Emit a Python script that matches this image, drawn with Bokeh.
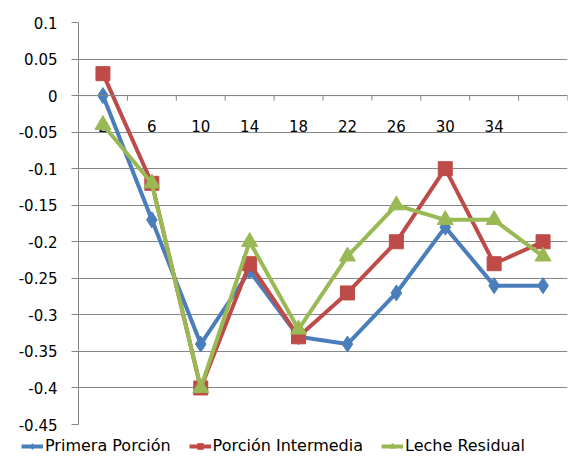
from bokeh.plotting import figure
from bokeh.models import (Range1d, FixedTicker, Span, Legend, LegendItem, ColumnDataSource)
from bokeh.core.properties import value
from bokeh.embed import file_html
from bokeh.resources import INLINE

categories = ["2", "6", "10", "14", "18", "22", "26", "30", "34", ""]
primera = [0.0, -0.17, -0.34, -0.24, -0.33, -0.34, -0.27, -0.18, -0.26, -0.26]
intermedia = [0.03, -0.12, -0.40, -0.23, -0.33, -0.27, -0.20, -0.10, -0.23, -0.20]
residual = [-0.04, -0.12, -0.40, -0.20, -0.32, -0.22, -0.15, -0.17, -0.17, -0.22]
y_ticks = [round(-0.45 + 0.05 * i, 2) for i in range(12)]
series_names = ["Primera Porción", "Porción Intermedia", "Leche Residual"]

FONT = "DejaVu Sans"
n = len(categories)
xs = [i + 0.5 for i in range(n)]

p = figure(width=571, height=436, output_backend="svg", toolbar_location=None,
           x_range=Range1d(0, n), y_range=Range1d(-0.45, 0.1),
           min_border_left=78, min_border_right=4, min_border_top=22, min_border_bottom=12)
p.outline_line_color = None
p.background_fill_color = "white"
p.border_fill_color = "white"

# x axis hidden (drawn at y=0 manually)
p.xaxis.visible = False
p.xgrid.visible = False

yax = p.yaxis[0]
yax.ticker = FixedTicker(ticks=y_ticks)
yax.major_label_overrides = {t: ("0" if t == 0 else f"{t:g}") for t in y_ticks}
yax.axis_line_color = "#868686"
yax.major_tick_line_color = "#868686"
yax.major_tick_out = 7
yax.major_tick_in = 0
yax.minor_tick_line_color = None
yax.major_label_standoff = 14
yax.major_label_text_font = FONT
yax.major_label_text_font_size = "15px"
yax.major_label_text_color = "black"

p.ygrid.ticker = FixedTicker(ticks=y_ticks)
p.ygrid.grid_line_color = "#868686"
p.ygrid.grid_line_width = 1

# category axis at y = 0
p.add_layout(Span(location=0, dimension="width", line_color="#868686", line_width=1))
bounds = list(range(1, n + 1))
p.segment(x0=bounds, y0=[0] * n, x1=bounds, y1=[-0.007] * n, line_color="#868686", line_width=1)
p.text(x=xs, y=[0] * n, text=categories, y_offset=30, text_align="center",
       text_baseline="middle", text_font=value(FONT), text_font_size="15px", text_color="black")

colors = ["#4A7EBB", "#BE4B48", "#98B954"]
markers = ["diamond", "square", "triangle"]
sizes = [16, 14, 16]

# legend strip below the chart (its ranges keep the series out of view)
lg = figure(width=571, height=21, output_backend="svg", toolbar_location=None,
            x_range=Range1d(100, 101), y_range=Range1d(100, 101),
            min_border_left=0, min_border_right=0, min_border_top=0, min_border_bottom=0)
lg.axis.visible = False
lg.grid.visible = False
lg.outline_line_color = None

items = []
for name, data, c, m, s in zip(series_names, [primera, intermedia, residual], colors, markers, sizes):
    src = ColumnDataSource(dict(x=xs, y=data))
    p.line("x", "y", source=src, line_color=c, line_width=4)
    p.scatter("x", "y", source=src, marker=m, size=s, fill_color=c, line_color=c)
    l2 = lg.line("x", "y", source=src, line_color=c, line_width=4)
    s2 = lg.scatter("x", "y", source=src, marker=m, size=s, fill_color=c, line_color=c)
    items.append(LegendItem(label=name, renderers=[l2, s2]))

legend = Legend(items=items, orientation="horizontal", location=(21, 2),
                label_text_font=FONT, label_text_font_size="16px", label_text_color="black",
                glyph_width=22, glyph_height=14, label_standoff=2, spacing=18,
                padding=0, margin=0, border_line_color=None, background_fill_alpha=0)
lg.add_layout(legend, "center")

open("out.html", "w").write(file_html([p, lg], INLINE))
